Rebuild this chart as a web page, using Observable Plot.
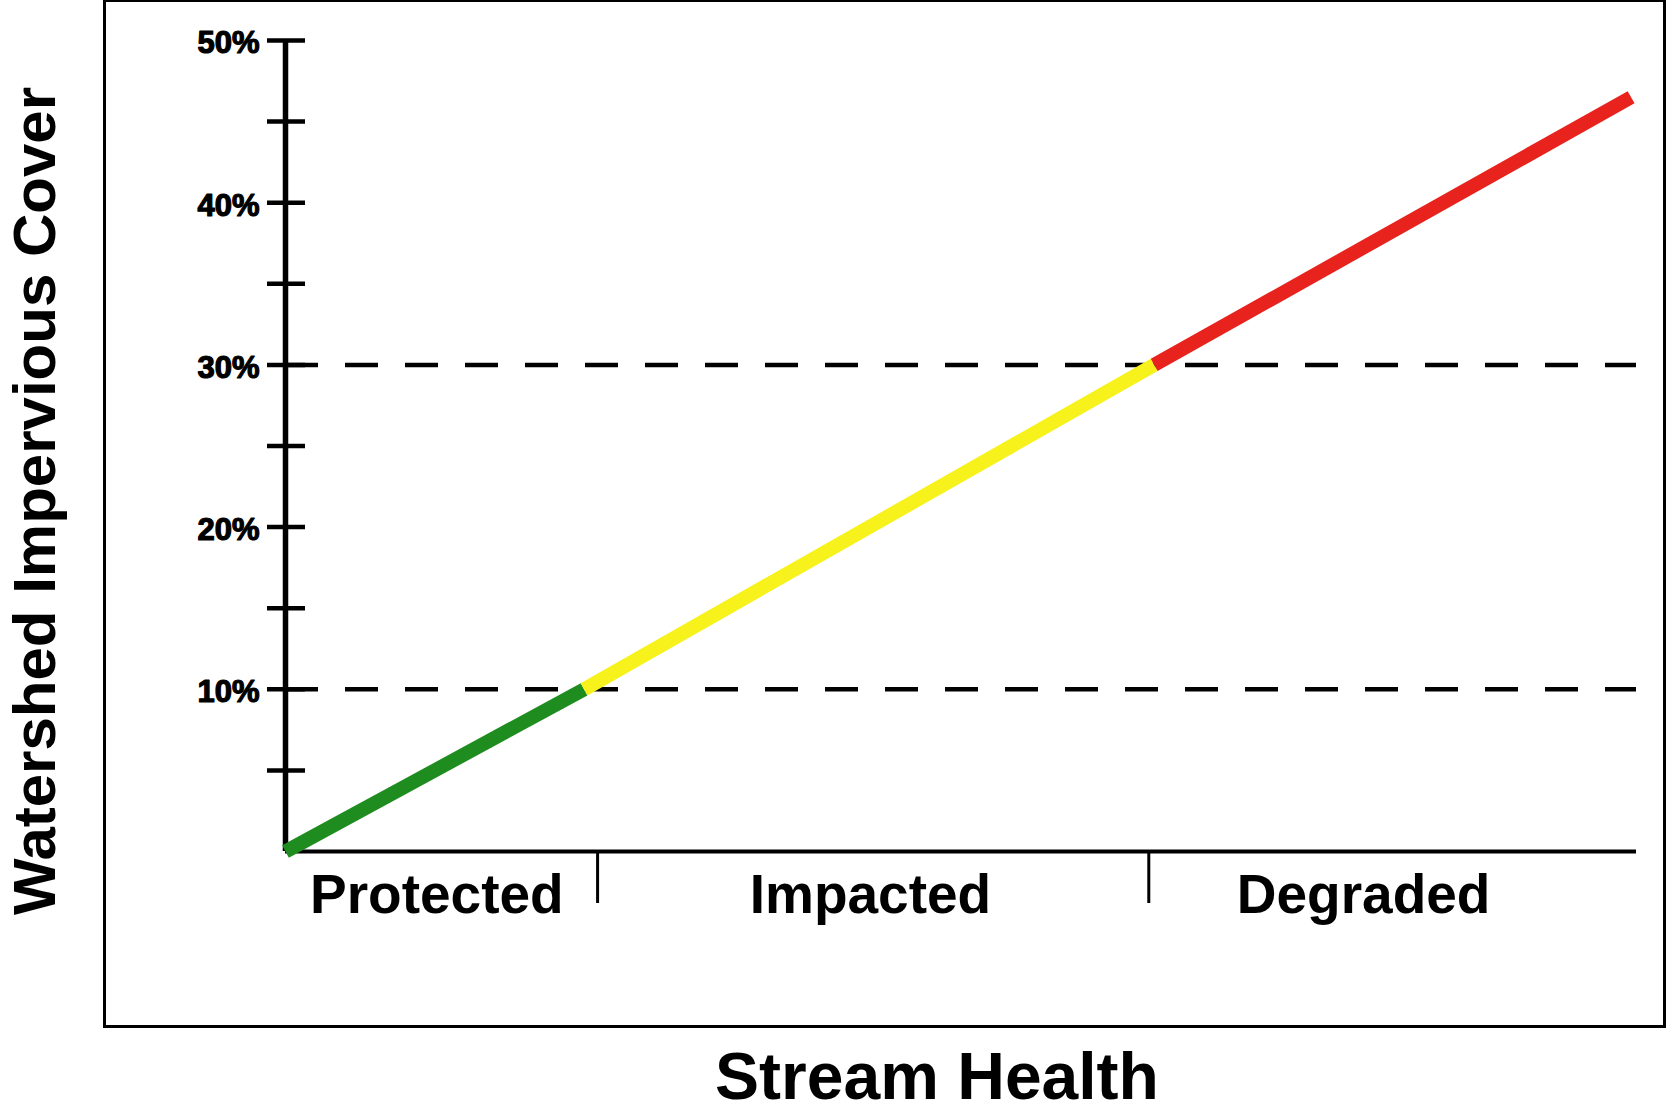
<!DOCTYPE html>
<html>
<head>
<meta charset="utf-8">
<script src="https://cdn.jsdelivr.net/npm/d3@7"></script>
<script src="https://cdn.jsdelivr.net/npm/@observablehq/plot@0.6"></script>
<style>
  html, body { margin: 0; padding: 0; background: #fff; }
  #wrap { position: relative; width: 1668px; height: 1113px; overflow: hidden; }
  #box { position: absolute; left: 103px; top: -1px; width: 1563px; height: 1029px;
         border: 3px solid #000; box-sizing: border-box; pointer-events: none; }
  svg { font-family: "Liberation Sans", Arial, sans-serif; }
</style>
</head>
<body>
<div id="wrap"><div id="box"></div></div>
<script>
// ---- data ----
const healthX = [0, 22.1, 64.3, 99.6];        // stream health position (0–100 along axis)
const coverY = [0, 10, 30, 46.5];             // watershed impervious cover (%)
const stages = ["Protected", "Impacted", "Degraded"];
const stageColors = ["#1f8c1f", "#f7f21c", "#e8221c"];
const stageBounds = [23.1, 63.9];             // dividers between stages
const stageCenters = [11.2, 43.3, 79.8];      // label positions
const thresholds = [10, 30];                  // dashed lines
const yTicks = [5, 10, 15, 20, 25, 30, 35, 40, 45, 50];
const yLabelTicks = [10, 20, 30, 40, 50];

const segments = stages.map((s, i) => ({
  stage: s, x1: healthX[i], y1: coverY[i], x2: healthX[i + 1], y2: coverY[i + 1], color: stageColors[i]
}));

const chart = Plot.plot({
  width: 1668,
  height: 1113,
  marginLeft: 285,
  marginRight: 32,
  marginTop: 40,
  marginBottom: 262,
  style: { background: "transparent", fontFamily: "'Liberation Sans', Arial, sans-serif", color: "#000" },
  x: { domain: [0, 100], axis: null },
  y: { domain: [0, 50], axis: null },
  marks: [
    // dashed threshold lines
    Plot.ruleY(thresholds, { x1: 0, x2: 100, stroke: "#000", strokeWidth: 4.5, strokeDasharray: "33,27" }),
    // y minor/major ticks crossing the axis
    Plot.axisY({ ticks: yTicks, tickSize: 38, dx: 20, tickFormat: () => "", strokeWidth: 4.5, label: null }),
    // y tick labels
    Plot.axisY({ ticks: yLabelTicks, tickSize: 0, tickPadding: 26, tickFormat: d => d + "%",
                 fontSize: 31, fontWeight: "bold", dy: 3, label: null,
                 textStroke: "#000", textStrokeWidth: 1.2 }),
    // axis lines
    Plot.ruleX([0], { y1: 0, y2: 50, stroke: "#000", strokeWidth: 5.5 }),
    Plot.ruleY([0], { x1: 0, x2: 100, stroke: "#000", strokeWidth: 4 }),
    // stage dividers below x axis
    Plot.axisX({ ticks: stageBounds, tickSize: 52, tickFormat: () => "", strokeWidth: 3, label: null }),
    // stage labels
    Plot.text(stages, { x: (d, i) => stageCenters[i], frameAnchor: "bottom", dy: 44,
                        fontSize: 55, fontWeight: "bold", fill: "#000", lineAnchor: "middle" }),
    // coloured line segments
    Plot.link(segments, { x1: "x1", y1: "y1", x2: "x2", y2: "y2", stroke: "color",
                          strokeWidth: 14, strokeLinecap: "butt" }),
    // axis titles
    Plot.text(["Watershed Impervious Cover"], { frameAnchor: "left", rotate: -90, dx: -250, dy: 55,
                        fontSize: 60, fontWeight: "bold", fill: "#000", lineAnchor: "middle", textAnchor: "middle" }),
    Plot.text(["Stream Health"], { frameAnchor: "bottom", dx: -24, dy: 226,
                        fontSize: 66, fontWeight: "bold", fill: "#000", lineAnchor: "middle" })
  ]
});
chart.style.position = "absolute";
chart.style.left = "0";
chart.style.top = "0";
document.getElementById("wrap").prepend(chart);
</script>
</body>
</html>
